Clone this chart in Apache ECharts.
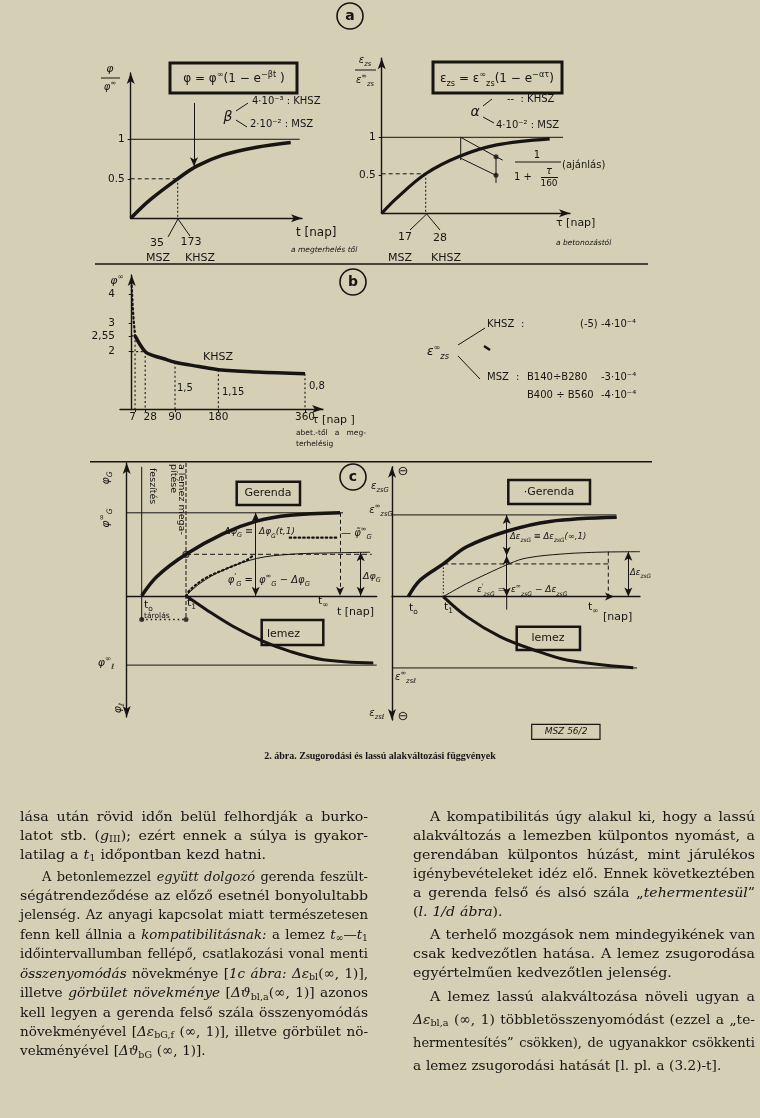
<!DOCTYPE html>
<html>
<head>
<meta charset="utf-8">
<style>
html,body{margin:0;padding:0;background:#d4cfb5;}
#main{width:760px;height:1118px;}
</style>
<script src="https://cdn.jsdelivr.net/npm/echarts@6.0.0/dist/echarts.min.js"></script>
</head>
<body>
<div id="main"></div>
<script>
const INK = '#161514';
const BG = '#d4cfb5';
const LF = 'DejaVu Sans';
const SF = 'DejaVu Serif';

// ---- values ----
// (a) left: phi/phi_inf against t (t in drawing units)
const aLeftT   = [0, 19, 47, 66, 92, 126, 160];
const aLeftPhi = [0, 0.23, 0.5, 0.66, 0.8, 0.9, 0.96];
// (a) right: eps_zs/eps_zs_inf against tau
const aRightTau = [0, 15, 44, 78, 115, 168];
const aRightEps = [0, 0.2, 0.52, 0.75, 0.9, 0.98];
const aTicks = [0.5, 1];
// (b) phi_inf against age at loading, days
const bDaysEarly = [0, 2, 4, 6, 7];
const bPhiEarly  = [4.3, 3.6, 3.1, 2.75, 2.55];
const bDays = [7, 28, 45, 65, 90, 140, 180, 260, 360];
const bPhi  = [2.55, 2.0, 1.86, 1.76, 1.63, 1.48, 1.37, 1.29, 1.23];
const bDayTicks = [7, 28, 90, 180, 360];
const bPhiTicks = [2, 2.55, 3, 4];
const bLateLabels = ['1,5', '1,15', '0,8'];
// (c) left: creep of beam (G) and slab (l)
const cGerX  = [15, 30, 59.3, 96.6, 130, 163.3, 213.3];
const cGerY  = [0, 0.23, 0.5, 0.75, 0.9, 0.97, 1.0];
const cLemX  = [59.3, 80, 106.6, 136.6, 163.3, 196.6, 246.6];
const cLemY  = [0, -0.17, -0.37, -0.55, -0.67, -0.77, -0.81];
const cThinX = [59.3, 73.3, 96.6, 130, 163.3, 196.3, 243.3];
const cThinY = [0, 0.15, 0.31, 0.45, 0.5, 0.515, 0.525];
const cDotX  = [59.3, 63.3, 78.3, 98.3, 120, 126.6];
const cDotY  = [0, 0.07, 0.21, 0.32, 0.43, 0.49];
const cInf = 213.3;
const cLemInf = -0.835;
// (c) right: shrinkage of beam and slab
const dGerX  = [16.3, 28, 51.3, 74.7, 114.7, 158, 224.7];
const dGerY  = [0, 0.2, 0.4, 0.61, 0.8, 0.92, 0.97];
const dThinX = [51.3, 74.7, 114.7, 130, 150, 180, 210, 248];
const dThinY = [0, 0.16, 0.39, 0.46, 0.5, 0.53, 0.545, 0.55];
const dLemX  = [51.3, 74.7, 108, 141.3, 174.7, 241.3];
const dLemY  = [0, -0.245, -0.49, -0.65, -0.775, -0.87];
const dInf = 216.3;
const dLemInf = -0.873;

// ---- body text ----
const leftP1 = [
  'lása után rövid időn belül felhordják a burko-',
  'latot stb. (*g*_III_); ezért ennek a súlya is gyakor-',
  'latilag a *t*_1_ időpontban kezd hatni.'
];
const leftP2 = [
  'A betonlemezzel *együtt dolgozó* gerenda feszült-',
  'ségátrendeződése az előző esetnél bonyolultabb',
  'jelenség. Az anyagi kapcsolat miatt természetesen',
  'fenn kell állnia a *kompatibilitásnak:* a lemez *t*_∞_—*t*_1_',
  'időintervallumban fellépő, csatlakozási vonal menti',
  '*összenyomódás* növekménye [*1c ábra:* *Δε*_bl_(∞, 1)],',
  'illetve *görbület növekménye* [*Δϑ*_bl,a_(∞, 1)] azonos',
  'kell legyen a gerenda felső szála összenyomódás',
  'növekményével [*Δε*_bG,f_ (∞, 1)], illetve görbület nö-',
  'vekményével [*Δϑ*_bG_ (∞, 1)].'
];
const rightP1 = [
  'A kompatibilitás úgy alakul ki, hogy a lassú',
  'alakváltozás a lemezben külpontos nyomást, a',
  'gerendában külpontos húzást, mint járulékos',
  'igénybevételeket idéz elő. Ennek következtében',
  'a gerenda felső és alsó szála „*tehermentesül*”',
  '(*l. 1/d ábra*).'
];
const rightP2 = [
  'A terhelő mozgások nem mindegyikének van',
  'csak kedvezőtlen hatása. A lemez zsugorodása',
  'egyértelműen kedvezőtlen jelenség.'
];
const rightP3 = [
  'A lemez lassú alakváltozása növeli ugyan a',
  '*Δε*_bl,a_ (∞, 1) többletösszenyomódást (ezzel a „te-',
  'hermentesítés” csökken), de ugyanakkor csökkenti',
  'a lemez zsugorodási hatását [l. pl. a (3.2)-t].'
];
const caption = '2. ábra. Zsugorodási és lassú alakváltozási függvények';

// ---- helpers ----
const pts = (xs, ys) => xs.map((x, i) => [x, ys[i]]);

function line(gi, xs, ys, style, extra) {
  return Object.assign({
    type: 'line', xAxisIndex: gi, yAxisIndex: gi, data: pts(xs, ys),
    symbol: 'none', showSymbol: false, clip: false, silent: true, animation: false,
    lineStyle: Object.assign({ color: INK, width: 1 }, style || {})
  }, extra || {});
}
function arrow(gi, x1, y1, x2, y2, sym, style) {
  return {
    type: 'line', xAxisIndex: gi, yAxisIndex: gi, data: [[x1, y1], [x2, y2]],
    symbol: 'none', clip: false, silent: true, animation: false,
    lineStyle: { opacity: 0 },
    markLine: {
      silent: true, animation: false, symbol: sym || ['arrow', 'arrow'], symbolSize: [6, 9],
      label: { show: false }, emphasis: { disabled: true },
      lineStyle: Object.assign({ color: INK, width: 1, type: 'solid' }, style || {}),
      data: [[{ coord: [x1, y1] }, { coord: [x2, y2] }]]
    }
  };
}
function dots(gi, data, open) {
  return {
    type: 'scatter', xAxisIndex: gi, yAxisIndex: gi, data, symbolSize: open ? 6 : 5,
    silent: true, animation: false, clip: false,
    itemStyle: open ? { color: BG, borderColor: INK, borderWidth: 1.2 } : { color: INK }
  };
}

const graphics = [];
function R(s) {
  return s.replace(/\^\{([^}]*)\}/g, '{sup|$1}').replace(/_\{([^}]*)\}/g, '{sub|$1}');
}
function richSt(size, italic) {
  const s = Math.round(size * 0.68 * 10) / 10;
  const base = { fontFamily: LF, fontStyle: italic ? 'italic' : 'normal', fill: INK, fontSize: s, lineHeight: s };
  return {
    sup: Object.assign({ verticalAlign: 'top' }, base),
    sub: Object.assign({ verticalAlign: 'bottom' }, base)
  };
}
function T(x, y, text, o) {
  o = o || {};
  const size = o.size || 11;
  const isRich = /[\^_]\{/.test(text);
  const style = {
    text: isRich ? R(text) : text, fill: INK, fontSize: size, fontFamily: o.family || LF,
    fontStyle: o.italic ? 'italic' : 'normal', fontWeight: o.bold ? 'bold' : 'normal',
    lineHeight: size + 5, align: o.align || 'left', verticalAlign: 'middle',
    textAlign: o.align || 'left', textVerticalAlign: 'middle'
  };
  if (isRich) style.rich = richSt(size, o.italic);
  graphics.push({ type: 'text', x, y, rotation: o.rot || 0, silent: true, z: 10, style });
}
function L(x1, y1, x2, y2, w) {
  graphics.push({ type: 'line', silent: true, z: 10, shape: { x1, y1, x2, y2 }, style: { stroke: INK, lineWidth: w || 1 } });
}
function Box(x, y, w, h, lw) {
  graphics.push({ type: 'rect', silent: true, z: 10, shape: { x, y, width: w, height: h }, style: { fill: 'none', stroke: INK, lineWidth: lw || 2.5 } });
}
function Circ(cx, cy, r, letter) {
  graphics.push({ type: 'circle', silent: true, z: 10, shape: { cx, cy, r }, style: { fill: 'none', stroke: INK, lineWidth: 1.6 } });
  T(cx, cy, letter, { size: 14, bold: true, align: 'center' });
}

// ---- justified body text ----
const mctx = document.createElement('canvas').getContext('2d');
function pieceFont(pc, size) {
  return { fontStyle: pc.italic ? 'italic' : 'normal', fontWeight: 'normal', fontSize: pc.sub ? +(size * 0.7).toFixed(2) : size, fontFamily: SF };
}
function measure(pc, size) {
  const f = pieceFont(pc, size);
  mctx.font = f.fontStyle + ' ' + f.fontWeight + ' ' + f.fontSize + 'px ' + f.fontFamily;
  return mctx.measureText(pc.t).width;
}
function parseLine(s) {
  const words = [];
  let word = [], buf = '', it = false, sb = false;
  const flush = () => { if (buf) { word.push({ t: buf, italic: it, sub: sb }); buf = ''; } };
  for (const ch of s) {
    if (ch === '*') { flush(); it = !it; }
    else if (ch === '_') { flush(); sb = !sb; }
    else if (ch === ' ') { flush(); if (word.length) words.push(word); word = []; }
    else buf += ch;
  }
  flush();
  if (word.length) words.push(word);
  return words;
}
const leftCol = [20, 368];
const rightCol = [413, 755];
const paras = [
  { col: leftCol, indent: 0, y0: 817, dy: 19.2, lines: leftP1 },
  { col: leftCol, indent: 22, y0: 877, dy: 19.44, lines: leftP2 },
  { col: rightCol, indent: 17, y0: 817, dy: 19, lines: rightP1 },
  { col: rightCol, indent: 17, y0: 935, dy: 19, lines: rightP2 },
  { col: rightCol, indent: 17, y0: 997, dy: 23.3, lines: rightP3 }
];
const bodySize = 13.6;
const wordW = (w, s) => w.reduce((a, pc) => a + measure(pc, s), 0);
const spaceW = measure({ t: ' ' }, bodySize);
const targetGap = spaceW * 1.25;
// each line gets a slight horizontal squeeze/stretch so word gaps stay even;
// a paragraph's last line uses the paragraph's mean squeeze
paras.forEach(p => {
  const rows = p.lines.map((ln, i) => {
    const words = parseLine(ln);
    const x0 = p.col[0] + (i === 0 ? p.indent : 0);
    const avail = p.col[1] - x0;
    const nat = words.reduce((a, w) => a + wordW(w, bodySize), 0);
    const last = i === p.lines.length - 1;
    let sx = null, gap = null;
    if (!last && words.length > 1) {
      sx = Math.max(0.84, Math.min(1.04, (avail - (words.length - 1) * targetGap) / nat));
      gap = (avail - nat * sx) / (words.length - 1);
    }
    return { words, x0, sx, gap, y: p.y0 + i * p.dy };
  });
  const just = rows.filter(r => r.sx !== null);
  const meanSx = just.length ? just.reduce((a, r) => a + r.sx, 0) / just.length : 0.97;
  rows.forEach(r => {
    const sx = r.sx !== null ? r.sx : meanSx;
    const gap = r.gap !== null ? r.gap : spaceW * sx * 1.1;
    let x = r.x0;
    r.words.forEach(w => {
      w.forEach(pc => {
        const f = pieceFont(pc, bodySize);
        graphics.push({
          type: 'text', x, y: r.y + (pc.sub ? 3.5 : 0), scaleX: sx, silent: true, z: 10,
          style: Object.assign({ text: pc.t, fill: INK, align: 'left', verticalAlign: 'middle', textAlign: 'left', textVerticalAlign: 'middle' }, f)
        });
        x += measure(pc, bodySize) * sx;
      });
      x += gap;
    });
  });
});
T(380, 756, caption, { family: 'Liberation Serif', bold: true, size: 10, align: 'center' });

// ---- diagram annotations ----
Circ(350, 16, 13, 'a');
Circ(353, 282, 13, 'b');
Circ(353, 477, 13, 'c');
L(95, 264, 648, 264, 1.5);
L(90, 461.7, 652, 461.7, 1.5);

// (a) left
T(110, 69, 'φ', { italic: true, size: 11, align: 'center' });
L(101, 78, 120, 78, 1);
T(110, 87, 'φ^{∞}', { italic: true, size: 10, align: 'center' });
Box(170, 63, 127, 30, 3);
T(234, 79, 'φ = φ^{∞}(1 − e^{−βt} )', { size: 12, align: 'center' });
T(228, 117, 'β', { italic: true, size: 14, align: 'center' });
L(236, 111, 248, 103); L(236, 120, 247, 127);
T(252, 101, '4·10⁻³ : KHSZ', { size: 10 });
T(250, 124, '2·10⁻² : MSZ', { size: 10 });
T(296, 233, 't [nap]', { size: 12 });
T(291, 250, 'a megterhelés től', { size: 7.5, italic: true });
L(178, 219, 168, 237); L(178, 219, 190, 236);
T(157, 243, '35', { align: 'center' });
T(191, 242, '173', { align: 'center' });
T(158, 258, 'MSZ', { align: 'center' });
T(200, 258, 'KHSZ', { align: 'center' });

// (a) right
T(365, 60, 'ε_{zs}', { italic: true, size: 10, align: 'center' });
L(355, 70, 376, 70, 1);
T(365, 80, 'ε^{∞}_{zs}', { italic: true, size: 10, align: 'center' });
Box(433, 62, 129, 31, 3);
T(497, 79, 'ε_{zs} = ε^{∞}_{zs}(1 − e^{−ατ})', { size: 12, align: 'center' });
T(475, 112, 'α', { italic: true, size: 14, align: 'center' });
L(483, 106, 492, 99); L(483, 117, 494, 123);
T(507, 99, '--  : KHSZ', { size: 10 });
T(496, 125, '4·10⁻² : MSZ', { size: 10 });
T(537, 155, '1', { size: 10, align: 'center' });
L(515, 162, 561, 162, 1);
T(523, 177, '1 +', { size: 10, align: 'center' });
T(549, 171, 'τ', { size: 10, italic: true, align: 'center' });
L(541, 177.5, 558, 177.5, 1);
T(549, 184, '160', { size: 9, align: 'center' });
T(562, 165, '(ajánlás)', { size: 10 });
T(556, 223, 'τ [nap]', { size: 11 });
T(556, 243, 'a betonozástól', { size: 7.5, italic: true });
L(426.7, 214, 410, 230); L(426.7, 214, 440, 230);
T(405, 237, '17', { align: 'center' });
T(440, 238, '28', { align: 'center' });
T(400, 258, 'MSZ', { align: 'center' });
T(446, 258, 'KHSZ', { align: 'center' });

// (b)
T(117, 281, 'φ^{∞}', { italic: true, size: 11, align: 'center' });
T(203, 357, 'KHSZ', { size: 11 });
T(177, 388, bLateLabels[0], { size: 10 });
T(222, 392, bLateLabels[1], { size: 10 });
T(309, 386, bLateLabels[2], { size: 10 });
T(312, 420, 'τ [nap ]', { size: 11 });
T(296, 433, 'abet.-től   a   meg-', { size: 7.5 });
T(296, 444, 'terhelésig', { size: 7.5 });
T(438, 352, 'ε^{∞}_{zs}', { italic: true, size: 12, align: 'center' });
L(458, 345, 485, 328); L(458, 356, 480, 379);
L(484, 346, 490, 350, 2.5);
T(487, 324, 'KHSZ', { size: 10 }); T(521, 324, ':', { size: 10 });
T(580, 324, '(-5) -4·10⁻⁴', { size: 10 });
T(487, 377, 'MSZ', { size: 10 }); T(516, 377, ':', { size: 10 });
T(527, 377, 'B140÷B280', { size: 10 }); T(601, 377, '-3·10⁻⁴', { size: 10 });
T(527, 395, 'B400 ÷ B560', { size: 10 }); T(601, 395, '-4·10⁻⁴', { size: 10 });

// (c) left
T(106, 478, 'φ_{G}', { italic: true, size: 11, align: 'center', rot: Math.PI / 2 });
T(106, 518, 'φ^{∞}_{G}', { italic: true, size: 11, align: 'center', rot: Math.PI / 2 });
T(106, 663, 'φ^{∞}_{ℓ}', { italic: true, size: 11, align: 'center' });
T(118, 708, 'φ_{ℓ}', { italic: true, size: 11, align: 'center', rot: Math.PI / 2 });
T(152, 468, 'feszítés', { size: 9.5, rot: -Math.PI / 2 });
T(181, 464, 'a lemez mega-', { size: 9.5, rot: -Math.PI / 2 });
T(173, 464, 'pítése', { size: 9.5, rot: -Math.PI / 2 });
Box(236.7, 481.7, 63.3, 23.3, 2.5);
T(268, 493, 'Gerenda', { size: 11, align: 'center' });
Box(261.7, 620, 61.6, 25, 2.5);
T(267, 634, 'lemez', { size: 11 });
T(144, 605, 't_{o}', { size: 11 });
T(144, 616, 'tárolás', { size: 7.5 });
T(187, 603, 't_{1}', { size: 11 });
T(318, 601, 't_{∞}', { size: 11 });
T(337, 612, 't [nap]', { size: 11 });
T(253, 532, 'Δφ_{G} ≡', { italic: true, size: 9.5, align: 'right' });
T(259, 532, 'Δφ_{G}(t,1)', { italic: true, size: 9 });
T(341, 533, '— φ̃^{∞}_{G}', { italic: true, size: 10 });
T(253, 580, "φ^{'}_{G} =", { italic: true, size: 10, align: 'right' });
T(259, 580, 'φ^{∞}_{G} − Δφ_{G}', { italic: true, size: 10 });
T(363, 577, 'Δφ_{G}', { italic: true, size: 9.5 });

// (c) right
T(380, 486, 'ε_{zsG}', { italic: true, size: 10, align: 'center' });
T(381, 510, 'ε^{∞}_{zsG}', { italic: true, size: 10, align: 'center' });
T(395, 677, 'ε^{∞}_{zsℓ}', { italic: true, size: 10 });
T(377, 713, 'ε_{zsℓ}', { italic: true, size: 10, align: 'center' });
T(403, 472, '⊖', { size: 13, align: 'center' });
T(403, 717, '⊖', { size: 13, align: 'center' });
Box(508.3, 480, 81.7, 24, 2.5);
T(549, 492, '·Gerenda', { size: 11, align: 'center' });
Box(516.7, 626.7, 63.3, 23.3, 2.5);
T(548, 638, 'lemez', { size: 11, align: 'center' });
T(409, 608, 't_{o}', { size: 11 });
T(444, 607, 't_{1}', { size: 11 });
T(588, 607, 't_{∞}', { size: 11 });
T(603, 617, '[nap]', { size: 11 });
T(510, 537, 'Δε_{zsG} ≡ Δε_{zsG}(∞,1)', { italic: true, size: 8.5 });
T(505, 590, "ε^{'}_{zsG} =", { italic: true, size: 9, align: 'right' });
T(511, 590, 'ε^{∞}_{zsG} − Δε_{zsG}', { italic: true, size: 9 });
T(630, 573, 'Δε_{zsG}', { italic: true, size: 8.5 });
Box(531.7, 724.3, 68.3, 15, 1.2);
T(566, 732, 'MSZ 56/2', { italic: true, size: 9, align: 'center' });

// ---- axes ----
const AX = { color: INK, width: 1.4 };
function axis(gi, min, max, sym, extra) {
  return Object.assign({
    type: 'value', gridIndex: gi, min, max,
    splitLine: { show: false }, axisTick: { show: false }, axisLabel: { show: false },
    axisLine: { show: true, onZero: true, lineStyle: AX, symbol: sym, symbolSize: [6, 11] }
  }, extra || {});
}
const lab = (vals, fmt, margin, rich) => ({
  axisLabel: { show: true, customValues: vals, formatter: fmt, color: INK, fontFamily: LF, fontSize: 10.5, margin, rich },
  axisTick: { show: true, customValues: vals, length: 3, lineStyle: { color: INK } }
});
const aFmt = v => (v === 1 ? '1' : '0.5');
const bYFmt = v => String(v).replace('.', ',');
// the two first day labels sit close together: nudge them apart
const bXFmt = v => (v === bDayTicks[0] ? '{l|' + v + '}' : v === bDayTicks[1] ? '{r|' + v + '}' : String(v));
const bXRich = { l: { padding: [0, 5, 0, 0] }, r: { padding: [0, 0, 0, 10] } };

const xAxis = [
  axis(0, 0, 171.3, ['none', 'arrow']),
  axis(1, 0, 188.3, ['none', 'arrow']),
  axis(2, -24.3, 397.4, ['none', 'arrow'], lab(bDayTicks, bXFmt, 3, bXRich)),
  axis(3, 0, 250, ['none', 'none']),
  axis(4, 0, 248, ['none', 'none'])
];
const yAxis = [
  axis(0, 0, 1.84, ['none', 'arrow'], lab(aTicks, aFmt, 6)),
  axis(1, 0, 2.04, ['none', 'arrow'], lab(aTicks, aFmt, 6)),
  axis(2, 0, 4.67, ['none', 'arrow'], lab(bPhiTicks, bYFmt, 5)),
  axis(3, -1.46, 1.6, ['arrow', 'arrow']),
  axis(4, -1.51, 1.59, ['arrow', 'arrow'])
];
const grid = [
  { left: 130.7, top: 72.9, width: 171.3, height: 145.4 },
  { left: 381.7, top: 58.3, width: 188.3, height: 155 },
  { left: 120, top: 275, width: 203, height: 134 },
  { left: 126.7, top: 463, width: 250, height: 254 },
  { left: 392, top: 466.7, width: 248, height: 253.3 }
];

const DASH = [4, 3];
const DOT = [1.5, 3];
const smooth = { smooth: 0.35 };
const series = [];

// (a) left
series.push(line(0, [-9, 169], [1, 1]));
series.push(line(0, [0, aLeftT[2]], [aLeftPhi[2], aLeftPhi[2]], { type: DASH }));
series.push(line(0, [aLeftT[2], aLeftT[2]], [aLeftPhi[2], 0], { type: [2, 2] }));
series.push(line(0, aLeftT, aLeftPhi, { width: 3.5 }, smooth));
series.push(arrow(0, 63.3, 1.46, 63.3, 0.66, ['none', 'arrow']));

// (a) right
series.push(line(1, [-11.7, 181.3], [1, 1]));
series.push(line(1, [0, aRightTau[2]], [aRightEps[2], aRightEps[2]], { type: DASH }));
series.push(line(1, [aRightTau[2], aRightTau[2]], [aRightEps[2], 0], { type: [2, 2] }));
series.push(line(1, aRightTau, aRightEps, { width: 3.2 }, smooth));
series.push(line(1, [79, 79], [1, 0.7]));
series.push(line(1, [79, 114.3], [1, 0.745]));
series.push(line(1, [79, 114.3], [0.725, 0.5]));
series.push(line(1, [114.3, 114.3], [0.75, 0.4]));
series.push(line(1, [114.3, 121], [0.745, 0.7]));
series.push(dots(1, [[114.3, 0.745], [114.3, 0.5]]));

// (b)
series.push(line(2, bDaysEarly, bPhiEarly, { type: DOT, width: 2.2, cap: 'round' }));
series.push(line(2, bDays, bPhi, { width: 3.5 }, smooth));
bDayTicks.forEach((d, k) => {
  const v = bPhi[bDays.indexOf(d)];
  series.push(line(2, [d, d], [v, 0], { type: [2, 2.5], width: 1.1 }));
  if (k < 2) series.push(line(2, [0, d], [v, v], { type: [2, 2.5], width: 1.1 }));
});

// (c) left
series.push(line(3, [-5, cInf + 3], [1, 1]));
series.push(line(3, [-3.7, 250], [cLemInf, cLemInf]));
series.push(line(3, cGerX, cGerY, { width: 3.5 }, smooth));
series.push(line(3, cLemX, cLemY, { width: 3 }, smooth));
series.push(line(3, cThinX, cThinY, { width: 1 }, smooth));
series.push(line(3, cDotX, cDotY, { type: DOT, width: 2.2, cap: 'round' }, smooth));
series.push(line(3, [cGerX[2], 245], [cGerY[2], cGerY[2]], { type: [5, 3] }));
series.push(line(3, [163, 211], [0.7, 0.7], { type: DOT, width: 2.2, cap: 'round' }));
series.push(line(3, [cGerX[0], cGerX[0]], [1.554, -0.285]));
series.push(line(3, [cGerX[2], cGerX[2]], [1.6, -0.29], { type: [4, 2] }));
series.push(line(3, [cGerX[0], cGerX[2]], [-0.285, -0.285], { type: DOT, width: 1.5 }));
series.push(dots(3, [[cGerX[0], -0.285], [cGerX[2], -0.285]]));
series.push(arrow(3, 129, 1, 129, 0));
series.push(arrow(3, cInf, 1, cInf, 0, ['none', 'arrow'], { type: [4, 3] }));
series.push(arrow(3, 234, cThinY[cThinY.length - 1], 234, 0));
series.push(dots(3, [[cGerX[2], cGerY[2]]], true));

// (c) right
series.push(line(4, [0, dInf + 8], [1, 1]));
series.push(line(4, [0, 245], [dLemInf, dLemInf]));
series.push(line(4, dGerX, dGerY, { width: 3.5 }, smooth));
series.push(line(4, dLemX, dLemY, { width: 3 }, smooth));
series.push(line(4, dThinX, dThinY, { width: 1 }, { smooth: 0.25 }));
series.push(line(4, [dGerX[2], dInf], [dGerY[2], dGerY[2]], { type: [5, 3] }));
series.push(line(4, [dGerX[2], dGerX[2]], [dGerY[2], 0], { type: [1.5, 2] }));
series.push(line(4, [dInf, dInf], [dThinY[dThinY.length - 1], 0], { type: [4, 3] }));
series.push(arrow(4, 114.7, 1, 114.7, 0.5));
series.push(arrow(4, 114.7, 0.5, 114.7, 0));
series.push(line(4, [114.7, 114.7], [0, -0.16]));
series.push(arrow(4, 236.3, dThinY[dThinY.length - 1], 236.3, 0));
series.push(arrow(4, 205, 0, 222, 0, ['none', 'arrow']));

const myChart = echarts.init(document.getElementById('main'));
myChart.setOption({
  backgroundColor: BG,
  animation: false,
  grid, xAxis, yAxis, series,
  graphic: { elements: graphics }
});
</script>
</body>
</html>
